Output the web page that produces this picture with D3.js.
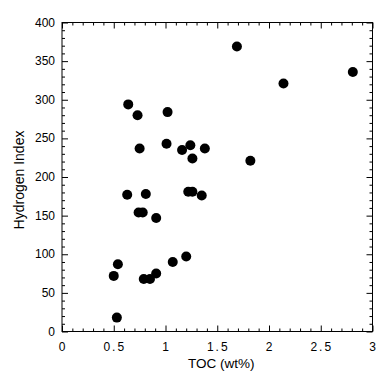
<!DOCTYPE html>
<html>
<head>
<meta charset="utf-8">
<script src="https://cdn.jsdelivr.net/npm/d3@7.9.0/dist/d3.min.js"></script>
<style>
  body { margin: 0; background: #fff; }
  svg { display: block; }
</style>
</head>
<body>
<svg id="chart" width="384" height="376"></svg>
<script>
// TOC (wt%) and Hydrogen Index
const toc = [1.69, 2.81, 2.14, 0.64, 0.73, 1.02, 0.75, 1.01, 1.16, 1.24, 1.26, 1.38, 1.82,
             0.63, 0.81, 0.74, 0.78, 0.91, 1.22, 1.26, 1.35,
             0.50, 0.54, 0.79, 0.85, 0.91, 1.07, 1.20, 0.53];
const hi = [369, 336, 321, 294, 280, 284, 237, 243, 235, 241, 224, 237, 221,
            177, 178, 154, 154, 147, 181, 181, 176,
            72, 87, 68, 68, 75, 90, 97, 18];
const xTicks = [0, 0.5, 1, 1.5, 2, 2.5, 3];
const yTicks = [0, 50, 100, 150, 200, 250, 300, 350, 400];

const svgWidth = 384;
const svgHeight = 376;
const margin = { top: 22.5, right: 11.5, bottom: 44.5, left: 62 };
const width = svgWidth - margin.left - margin.right;
const height = svgHeight - margin.top - margin.bottom;
const font = "'Liberation Sans', Arial, Helvetica, sans-serif";

const svg = d3.select("#chart");
const g = svg.append("g").attr("transform", `translate(${margin.left}, ${margin.top})`);

const xScale = d3.scaleLinear().domain([0, 3]).range([0, width]);
const yScale = d3.scaleLinear().domain([0, 400]).range([height, 0]);

const xMinor = d3.range(0, 3.0001, 0.1).filter(v => Math.abs(v * 2 - Math.round(v * 2)) > 1e-6);
const yMinor = d3.range(0, 401, 10).filter(v => v % 50 !== 0);

// inward ticks on all four sides
function tickAxes(axisFn, scale, major, minor, transform) {
  const a = g.append("g").attr("transform", transform);
  a.call(axisFn(scale).tickValues(minor).tickSize(-3).tickFormat(""));
  a.append("g").call(axisFn(scale).tickValues(major).tickSize(-6).tickFormat(""));
  a.selectAll(".domain").remove();
  a.selectAll("line").attr("stroke", "#000").attr("stroke-width", 1);
  return a;
}
tickAxes(d3.axisBottom, xScale, xTicks, xMinor, `translate(0, ${height})`);
tickAxes(d3.axisTop, xScale, xTicks, xMinor, "translate(0, 0)");
tickAxes(d3.axisLeft, yScale, yTicks, yMinor, "translate(0, 0)");
tickAxes(d3.axisRight, yScale, yTicks, yMinor, `translate(${width}, 0)`);

g.append("rect")
  .attr("x", 0).attr("y", 0)
  .attr("width", width).attr("height", height)
  .attr("fill", "none")
  .attr("stroke", "#000")
  .attr("stroke-width", 1);

// tick labels
g.append("g")
  .selectAll("text")
  .data(xTicks)
  .join("text")
  .attr("x", d => xScale(d) + (String(d).length > 1 ? 1 : 0))
  .attr("y", height + 19)
  .attr("text-anchor", "middle")
  .style("font-family", font)
  .style("font-size", "12px")
  .style("letter-spacing", d => String(d).length > 1 ? "2px" : "0px")
  .text(d => String(d));

g.append("g")
  .selectAll("text")
  .data(yTicks)
  .join("text")
  .attr("x", -7)
  .attr("y", d => yScale(d) + 4)
  .attr("text-anchor", "end")
  .style("font-family", font)
  .style("font-size", "12px")
  .text(d => d);

// points
const pts = toc.map((d, i) => ({ x: d, y: hi[i] }));
g.append("g")
  .selectAll("circle")
  .data(pts)
  .join("circle")
  .attr("cx", d => xScale(d.x))
  .attr("cy", d => yScale(d.y))
  .attr("r", 5)
  .attr("fill", "#000");

// axis titles
g.append("text")
  .attr("x", width / 2 + 4)
  .attr("y", height + 36)
  .attr("text-anchor", "middle")
  .style("font-family", font)
  .style("font-size", "13.5px")
  .text("TOC (wt%)");

g.append("text")
  .attr("transform", "rotate(-90)")
  .attr("x", -157.5)
  .attr("y", -38)
  .attr("text-anchor", "middle")
  .style("font-family", font)
  .style("font-size", "14px")
  .text("Hydrogen Index");
</script>
</body>
</html>
